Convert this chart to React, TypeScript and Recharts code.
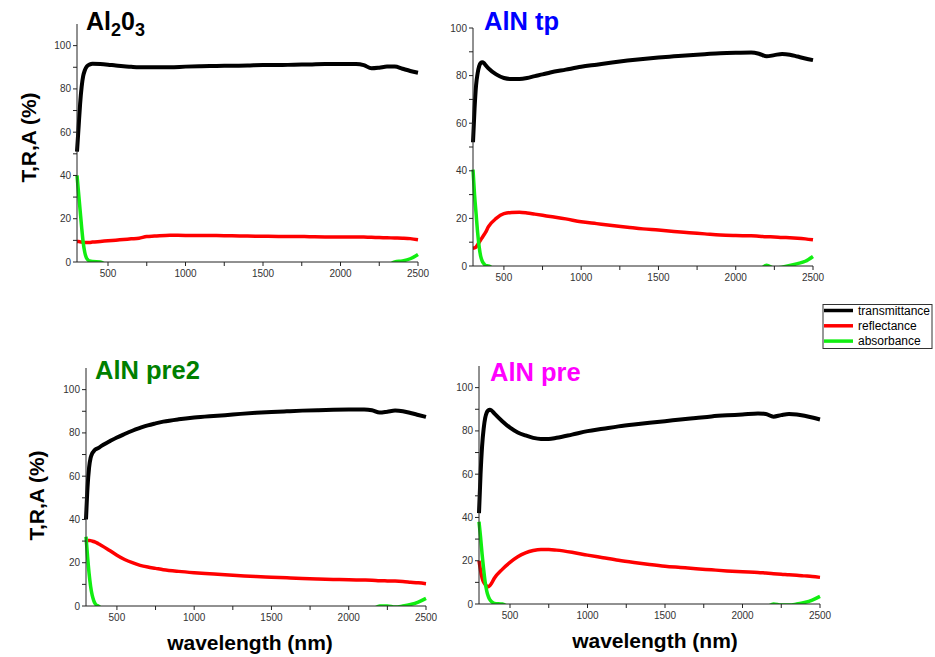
import React from 'react';
import { LineChart, Line, XAxis, YAxis } from 'recharts';

// wavelength grid (nm) shared by all four spectra
const wavelengths = [
  300, 310, 320, 330, 340, 350, 360, 370, 380, 400, 450, 500, 550, 600, 650, 700, 750, 800, 900,
  1000, 1100, 1200, 1300, 1400, 1500, 1600, 1700, 1800, 1900, 2000, 2100, 2150, 2200, 2250, 2300,
  2350, 2400, 2450, 2500,
];

// Al2O3
const tAl2O3 = [51, 62, 73, 81, 86, 88.5, 90, 90.8, 91.2, 91.6, 91.5, 91.2, 90.8, 90.5, 90.2, 90, 90, 90, 90, 90.3, 90.5, 90.6, 90.7, 90.8, 91, 91, 91.2, 91.3, 91.5, 91.5, 91.5, 91, 89.5, 89.8, 90.3, 90.3, 89.3, 88.3, 87.5];
const rAl2O3 = [9.5, 9.5, 9.3, 9.2, 9.1, 9, 9, 9, 9, 9.2, 9.5, 9.8, 10.1, 10.4, 10.7, 11, 11.8, 12, 12.4, 12.3, 12.3, 12.2, 12.1, 12, 11.9, 11.8, 11.8, 11.7, 11.6, 11.6, 11.6, 11.5, 11.4, 11.3, 11.2, 11.1, 11, 10.8, 10.3];
const aAl2O3 = [40, 32, 24, 16, 9, 4.5, 2, 1, 0.5, 0.2, 0, -1.5, -1.5, -1.5, -1.5, -1.5, -1.5, -1.5, -1.5, -1.5, -1.5, -1.5, -1.5, -1.5, -1.5, -1.5, -1.5, -1.5, -1.5, -1.5, -1.5, -1.5, -1.5, -1.5, -1.5, 0, 0.5, 1.5, 3.5];

// AlN tp
const tAlNtp = [52, 66, 76, 81, 84, 85.3, 85.6, 85.3, 84.5, 83, 80.5, 79, 78.6, 78.6, 79, 79.8, 80.5, 81.3, 82.5, 83.7, 84.6, 85.5, 86.3, 87, 87.6, 88.1, 88.6, 89, 89.4, 89.6, 89.7, 89.2, 88.1, 88.6, 89.1, 88.8, 88, 87.2, 86.5];
const rAlNtp = [7.5, 7.6, 8, 9, 10, 11, 12, 13, 14, 16.5, 20, 22, 22.5, 22.6, 22.3, 21.8, 21.3, 20.8, 19.8, 18.6, 17.8, 17, 16.3, 15.6, 15.1, 14.5, 14, 13.5, 13, 12.8, 12.7, 12.5, 12.3, 12.2, 12, 11.9, 11.7, 11.4, 11];
const aAlNtp = [40.5, 30, 22, 14, 8, 4, 2, 1, 0.3, 0, -1.5, -1.5, -1.5, -1.5, -1.5, -1.5, -1.5, -1.5, -1.5, -1.5, -1.5, -1.5, -1.5, -1.5, -1.5, -1.5, -1.5, -1.5, -1.5, -1.5, -1.5, -1.5, 0.3, -1, -0.5, 0.2, 1, 2, 4];

// AlN pre2
const tAlNpre2 = [40, 55, 64, 68.5, 70.5, 71.5, 72.3, 72.7, 73, 74, 76, 77.9, 79.5, 81, 82.3, 83.5, 84.4, 85.2, 86.3, 87.1, 87.7, 88.2, 88.8, 89.3, 89.7, 90, 90.3, 90.5, 90.7, 90.8, 90.8, 90.5, 89.4, 89.8, 90.3, 90, 89.2, 88.3, 87.4];
const rAlNpre2 = [30, 30.3, 30.3, 30.2, 30, 29.8, 29.5, 29.2, 28.8, 28, 25.8, 23.5, 21.5, 20, 18.8, 18, 17.4, 16.8, 16, 15.4, 14.9, 14.4, 14, 13.6, 13.3, 13, 12.7, 12.5, 12.3, 12.1, 12, 11.9, 11.7, 11.6, 11.5, 11.3, 11, 10.7, 10.3];
const aAlNpre2 = [32, 23, 15, 9, 5, 2.5, 1, 0.3, 0, -1, -1.5, -1.5, -1.5, -1.5, -1.5, -1.5, -1.5, -1.5, -1.5, -1.5, -1.5, -1.5, -1.5, -1.5, -1.5, -1.5, -1.5, -1.5, -1.5, -1.5, -1.5, -1.5, 0, 0, -0.5, 0, 0.7, 1.8, 3.5];

// AlN pre
const tAlNpre = [42, 60, 73, 81, 86, 88.5, 89.5, 89.8, 89.5, 88, 84.5, 81.5, 79.3, 77.9, 76.8, 76.3, 76.3, 76.8, 78.3, 79.9, 81, 82.1, 83, 83.8, 84.5, 85.3, 86, 86.7, 87.2, 87.6, 88.1, 87.8, 86.6, 87.3, 87.8, 87.6, 87, 86.2, 85.3];
const rAlNpre = [20, 15.5, 12, 10, 9, 8.3, 8, 8.5, 9.5, 12, 16, 19.2, 21.8, 23.6, 24.7, 25.2, 25.2, 24.9, 23.9, 22.6, 21.4, 20.2, 19.2, 18.3, 17.5, 16.9, 16.3, 15.8, 15.3, 14.9, 14.6, 14.3, 14, 13.8, 13.5, 13.3, 13, 12.7, 12.3];
const aAlNpre = [38, 31, 23, 16, 10, 6, 3.5, 2, 1.2, 0.3, 0, -1.5, -1.5, -1.5, -1.5, -1.5, -1.5, -1.5, -1.5, -1.5, -1.5, -1.5, -1.5, -1.5, -1.5, -1.5, -1.5, -1.5, -1.5, -1.5, -1.5, -1.5, 0, -0.5, -0.5, 0, 0.7, 1.8, 3.5];

const xTicks = [500, 750, 1000, 1250, 1500, 1750, 2000, 2250, 2500];
const yTicks = [0, 10, 20, 30, 40, 50, 60, 70, 80, 90, 100];
const seriesNames = ['transmittance', 'reflectance', 'absorbance'];
const seriesColors = ['#000000', '#ff0000', '#11ee11'];

const FONT = 'Arial, "Liberation Sans", sans-serif';

const XTick = (props: any) => {
  const { x, y, payload } = props;
  if (payload.value % 500 !== 0) return <g />;
  return (
    <text x={x} y={y} dy={9} textAnchor="middle" fontSize={10} fill="#333" fontFamily={FONT}>
      {payload.value}
    </text>
  );
};

const YTick = (props: any) => {
  const { x, y, payload } = props;
  if (payload.value % 20 !== 0) return <g />;
  return (
    <text x={x} y={y} dy={3.5} textAnchor="end" fontSize={10} fill="#333" fontFamily={FONT}>
      {payload.value}
    </text>
  );
};

const panels = [
  { key: 'al2o3', t: tAl2O3, r: rAl2O3, a: aAl2O3, left: 0, top: 0, width: 440, height: 300, margin: { top: 24, right: 22, bottom: 8, left: 0 }, yWidth: 77, yMax: 110 },
  { key: 'alntp', t: tAlNtp, r: rAlNtp, a: aAlNtp, left: 440, top: 0, width: 400, height: 300, margin: { top: 28, right: 27, bottom: 4, left: 0 }, yWidth: 33, yMax: 100 },
  { key: 'alnpre2', t: tAlNpre2, r: rAlNpre2, a: aAlNpre2, left: 0, top: 340, width: 440, height: 317, margin: { top: 28, right: 14, bottom: 21, left: 0 }, yWidth: 86, yMax: 110 },
  { key: 'alnpre', t: tAlNpre, r: rAlNpre, a: aAlNpre, left: 440, top: 340, width: 400, height: 317, margin: { top: 26, right: 20, bottom: 23, left: 0 }, yWidth: 39, yMax: 110 },
];

function Panel({ p }: { p: (typeof panels)[number] }) {
  const data = wavelengths.map((w, i) => ({ wl: w, T: p.t[i], R: p.r[i], A: p.a[i] }));
  return (
    <div style={{ position: 'absolute', left: p.left, top: p.top }}>
      <LineChart width={p.width} height={p.height} data={data} margin={p.margin}>
        <XAxis
          dataKey="wl"
          type="number"
          domain={[300, 2500]}
          ticks={xTicks}
          interval={0}
          tick={XTick}
          tickSize={4}
          height={30}
          axisLine={{ stroke: '#222' }}
          tickLine={{ stroke: '#222' }}
        />
        <YAxis
          type="number"
          domain={[0, p.yMax]}
          allowDataOverflow
          ticks={yTicks}
          interval={0}
          tick={YTick}
          tickSize={4}
          width={p.yWidth}
          axisLine={{ stroke: '#222' }}
          tickLine={{ stroke: '#222' }}
        />
        <Line type="monotone" dataKey="T" stroke={seriesColors[0]} strokeWidth={4} dot={false} activeDot={false} isAnimationActive={false} />
        <Line type="monotone" dataKey="R" stroke={seriesColors[1]} strokeWidth={3.5} dot={false} activeDot={false} isAnimationActive={false} />
        <Line type="monotone" dataKey="A" stroke={seriesColors[2]} strokeWidth={3.5} dot={false} activeDot={false} isAnimationActive={false} />
      </LineChart>
    </div>
  );
}

export default function App() {
  return (
    <div style={{ position: 'absolute', left: 0, top: 0, width: 935, height: 657, background: '#fff' }}>
      {panels.map((p) => (
        <Panel key={p.key} p={p} />
      ))}
      <svg width={935} height={657} style={{ position: 'absolute', left: 0, top: 0, pointerEvents: 'none' }} fontFamily={FONT} fontWeight="bold">
        <text x={86} y={30} fontSize={25} fill="#000">
          Al<tspan fontSize={18} dy={6}>2</tspan><tspan dy={-6}>0</tspan><tspan fontSize={18} dy={6}>3</tspan>
        </text>
        <text x={484} y={30} fontSize={25.5} fill="#0000ff">AlN tp</text>
        <text x={95} y={379} fontSize={25.5} fill="#008000">AlN pre2</text>
        <text x={490} y={381} fontSize={25.5} fill="#ff00ff">AlN pre</text>

        <text transform="translate(36,137.5) rotate(-90)" textAnchor="middle" fontSize={21} fill="#000">T,R,A (%)</text>
        <text transform="translate(43.5,495.5) rotate(-90)" textAnchor="middle" fontSize={21} fill="#000">T,R,A (%)</text>
        <text x={250} y={650} textAnchor="middle" fontSize={21} fill="#000">wavelength (nm)</text>
        <text x={655} y={648} textAnchor="middle" fontSize={21} fill="#000">wavelength (nm)</text>

        <rect x={823} y={304.5} width={109} height={44} fill="#fff" stroke="#333" strokeWidth={1} />
        {seriesNames.map((name, i) => (
          <g key={name}>
            <line x1={824} x2={853} y1={310.5 + i * 15.3} y2={310.5 + i * 15.3} stroke={seriesColors[i]} strokeWidth={3.5} />
            <text x={858} y={314.5 + i * 15.3} fontSize={12} fontWeight="normal" fill="#000">{name}</text>
          </g>
        ))}
      </svg>
    </div>
  );
}
